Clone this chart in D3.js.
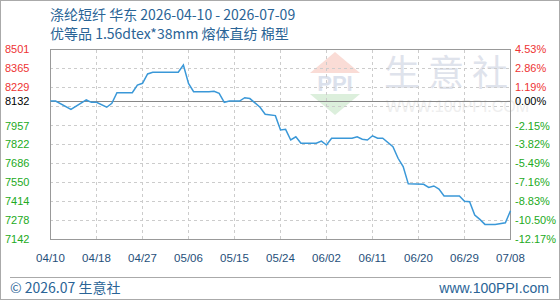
<!DOCTYPE html>
<html>
<head>
<meta charset="utf-8">
<script src="https://cdn.jsdelivr.net/npm/d3@7"></script>
<style>
  body { margin: 0; background: #fff; }
  svg { display: block; }
  text { font-family: "Liberation Sans", Arial, sans-serif; }
  .cn { font-family: "Noto Sans CJK SC", "Liberation Sans", sans-serif; }
</style>
</head>
<body>
<div class="container"></div>
<script>
// price data (yuan/ton), breakpoints
const dates = ["2026-04-10","2026-04-11","2026-04-14","2026-04-17","2026-04-18","2026-04-19","2026-04-21","2026-04-22",
  "2026-04-23","2026-04-26","2026-04-27","2026-04-28","2026-04-29","2026-04-30","2026-05-05","2026-05-06",
  "2026-05-07","2026-05-08","2026-05-11","2026-05-12","2026-05-13","2026-05-14","2026-05-15","2026-05-17",
  "2026-05-18","2026-05-19","2026-05-21","2026-05-22","2026-05-24","2026-05-25","2026-05-26","2026-05-27",
  "2026-05-28","2026-05-29","2026-06-01","2026-06-02","2026-06-03","2026-06-04","2026-06-08","2026-06-09",
  "2026-06-10","2026-06-11","2026-06-12","2026-06-13","2026-06-14","2026-06-16","2026-06-17","2026-06-18",
  "2026-06-19","2026-06-22","2026-06-23","2026-06-24","2026-06-25","2026-06-26","2026-06-29","2026-06-30",
  "2026-07-01","2026-07-02","2026-07-03","2026-07-04","2026-07-06","2026-07-08","2026-07-09"];
const prices = [8132,8132,8073,8140,8123,8123,8088,8116,
  8192,8192,8247,8259,8326,8338,8338,8390,
  8259,8199,8199,8202,8188,8123,8132,8132,
  8156,8150,8088,8038,8028,7925,7930,7854,
  7877,7830,7830,7846,7818,7866,7866,7877,
  7859,7854,7884,7866,7866,7806,7723,7663,
  7540,7537,7515,7525,7503,7453,7453,7415,
  7412,7317,7286,7250,7250,7262,7348];

const leftLabels = ["8501","8365","8229","8132","7957","7822","7686","7550","7414","7278","7142"];
const rightLabels = ["4.53%","2.86%","1.19%","0.00%","-2.15%","-3.82%","-5.49%","-7.16%","-8.83%","-10.50%","-12.17%"];
const xLabels = ["04/10","04/18","04/27","05/06","05/15","05/24","06/02","06/11","06/20","06/29","07/08"];

const title1 = "涤纶短纤 华东 2026-04-10 - 2026-07-09";
const title2 = "优等品 1.56dtex*38mm 熔体直纺 棉型";

const w = 560, h = 300;
const yMin = 7142, yMax = 8501, base = 8132;

const parse = d3.timeParse("%Y-%m-%d");
const start = parse(dates[0]);
const dayIdx = (s) => Math.round((parse(s) - start) / 86400000);

const xScale = d3.scaleLinear().domain([0, 90]).range([50.5, 510.5]);
const yScale = d3.scaleLinear().domain([yMin, yMax]).range([239.5, 49.5]);

const svg = d3.select(".container").append("svg")
  .attr("width", w).attr("height", h);

// outer frame
svg.append("rect").attr("x", 0.5).attr("y", 0.5).attr("width", w - 1).attr("height", h - 1)
  .attr("fill", "#fff").attr("stroke", "#aaa");

// titles
svg.append("text").attr("class", "cn").attr("x", 50).attr("y", 20)
  .attr("font-size", 14).attr("fill", "#2a6496").text(title1);
svg.append("text").attr("class", "cn").attr("x", 50).attr("y", 39)
  .attr("font-size", 14).attr("fill", "#2a6496").text(title2);

// watermark
const wm = svg.append("g");
wm.append("path").attr("d", "M335,52 L360,73 L310,73 Z").attr("fill", "#fadcd6");
wm.append("text").attr("x", 335).attr("y", 91).attr("text-anchor", "middle")
  .attr("font-family", "Liberation Serif, serif").attr("font-size", 22).attr("font-weight", "bold")
  .attr("fill", "#dbe1ec").text("PPI");
wm.append("path").attr("d", "M310,94 L360,94 L335,115 Z").attr("fill", "#dcefdc");
wm.append("text").attr("class", "cn").attr("x", 384).attr("y", 86)
  .attr("font-size", 36).attr("letter-spacing", 8).attr("fill", "#dfe3ec").text("生意社");
wm.append("text").attr("x", 386).attr("y", 112)
  .attr("font-size", 16).attr("fill", "#eeeeee").text("WWW.100PPI.COM");

// grid
const grid = svg.append("g").attr("stroke", "#ccc").attr("stroke-dasharray", "3,3").attr("shape-rendering", "crispEdges");
d3.range(1, 10).forEach(i => {
  const v = yMin + i * (yMax - yMin) / 10;
  grid.append("line").attr("x1", 50).attr("x2", 510).attr("y1", yScale(v)).attr("y2", yScale(v));
  grid.append("line").attr("x1", xScale(i * 9)).attr("x2", xScale(i * 9)).attr("y1", 50).attr("y2", 240);
});

// baseline
svg.append("line").attr("x1", 50).attr("x2", 510).attr("y1", yScale(base)).attr("y2", yScale(base))
  .attr("stroke", "#888").attr("shape-rendering", "crispEdges");

// plot border
svg.append("rect").attr("x", 50.5).attr("y", 49.5).attr("width", 460).attr("height", 190)
  .attr("fill", "none").attr("stroke", "#999").attr("shape-rendering", "crispEdges");

// price line
const line = d3.line().x((d, i) => xScale(dayIdx(dates[i]))).y(d => yScale(d));
svg.append("path").datum(prices).attr("d", line)
  .attr("fill", "none").attr("stroke", "#3a98d8").attr("stroke-width", 1.5);

// y labels
const labelVals = leftLabels.map(Number);
const colorOf = (i) => labelVals[i] > base ? "#ee3333" : (labelVals[i] === base ? "#000" : "#22aa22");
svg.append("g").selectAll("text").data(leftLabels).enter().append("text")
  .attr("x", 5).attr("y", (d, i) => yScale(labelVals[i])).attr("dy", "0.36em")
  .attr("font-size", 11).attr("fill", (d, i) => colorOf(i)).text(d => d);
svg.append("g").selectAll("text").data(rightLabels).enter().append("text")
  .attr("x", 515).attr("y", (d, i) => yScale(labelVals[i])).attr("dy", "0.36em")
  .attr("font-size", 11).attr("fill", (d, i) => colorOf(i)).text(d => d);

// x labels
svg.append("g").selectAll("text").data(xLabels).enter().append("text")
  .attr("x", (d, i) => xScale(i * 9)).attr("y", 262).attr("text-anchor", "middle")
  .attr("font-size", 11.5).attr("fill", "#1f4f7a").text(d => d);

// footer
svg.append("line").attr("x1", 10).attr("x2", 551).attr("y1", 277.5).attr("y2", 277.5).attr("stroke", "#aaa");
svg.append("text").attr("class", "cn").attr("x", 10).attr("y", 293)
  .attr("font-size", 14).attr("fill", "#2a6496").text("© 2026.07 生意社");
svg.append("text").attr("x", 549).attr("y", 293).attr("text-anchor", "end")
  .attr("font-size", 14).attr("fill", "#2a6496").text("www.100PPI.com");
</script>
</body>
</html>
